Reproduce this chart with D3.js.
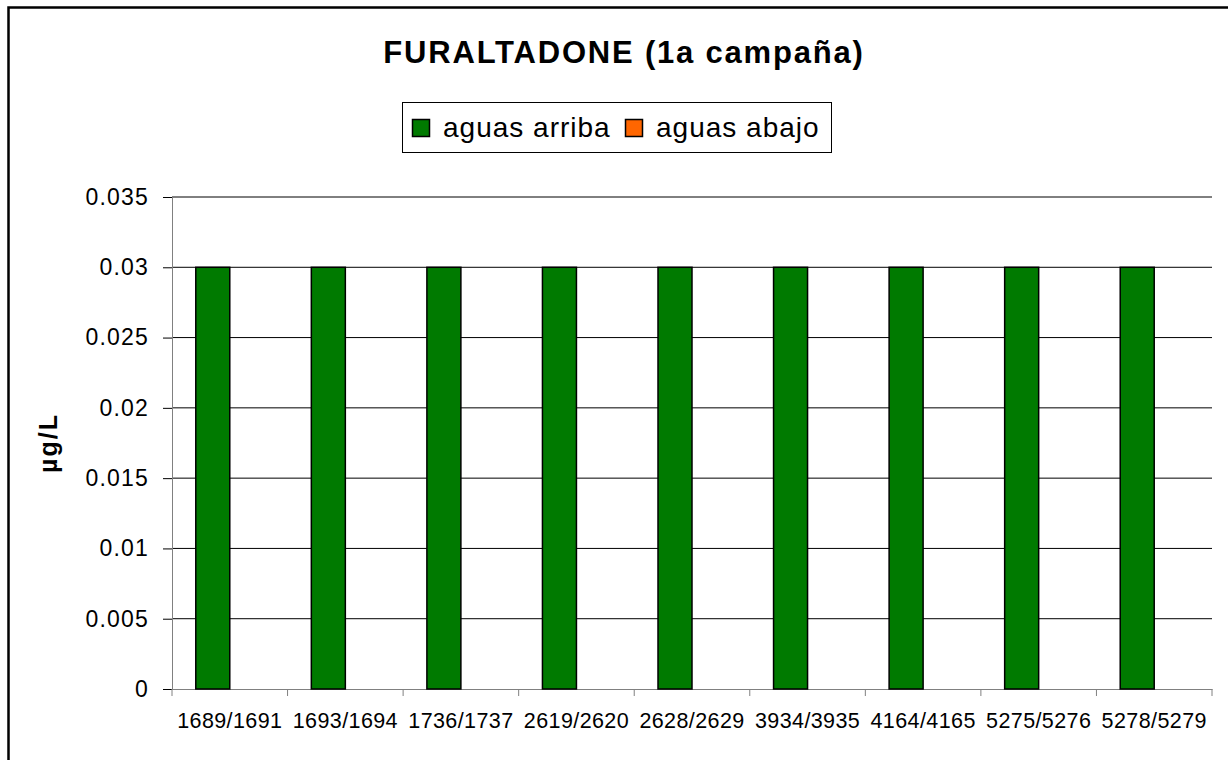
<!DOCTYPE html>
<html>
<head>
<meta charset="utf-8">
<script src="https://cdn.jsdelivr.net/npm/d3@7"></script>
<style>
  body { margin: 0; background: #fff; }
  svg { font-family: "Liberation Sans", Arial, sans-serif; }
</style>
</head>
<body>
<div id="chart"></div>
<script>
var sites = ["1689/1691", "1693/1694", "1736/1737", "2619/2620", "2628/2629",
             "3934/3935", "4164/4165", "5275/5276", "5278/5279"];
var seriesNames = ["aguas arriba", "aguas abajo"];
var upstream = [0.03, 0.03, 0.03, 0.03, 0.03, 0.03, 0.03, 0.03, 0.03];
var downstream = [0, 0, 0, 0, 0, 0, 0, 0, 0];
var yTicks = [0, 0.005, 0.01, 0.015, 0.02, 0.025, 0.03, 0.035];
var colors = ["#007A00", "#FF6600"];

var width = 1228, height = 760;
var margin = { top: 197, right: 16, bottom: 71, left: 172 };

const svg = d3.select("#chart")
  .append("svg")
  .attr("width", width)
  .attr("height", height);

// outer frame (only left and top edges show in the picture)
svg.append("path")
  .attr("d", "M8.5," + height + " L8.5,7.5 L" + width + ",7.5")
  .attr("fill", "none")
  .attr("stroke", "#000")
  .attr("stroke-width", 2.5);

svg.append("text")
  .attr("x", 624)
  .attr("y", 63)
  .attr("text-anchor", "middle")
  .attr("font-size", 31)
  .attr("font-weight", "bold")
  .attr("letter-spacing", 1.8)
  .text("FURALTADONE (1a campaña)");

const x = d3.scaleBand()
  .domain(sites)
  .range([margin.left, width - margin.right]);

const xSub = d3.scaleBand()
  .domain(seriesNames)
  .range([0, 68]);

const y = d3.scaleLinear()
  .domain([0, 0.035])
  .range([height - margin.bottom, margin.top]);

// gridlines
svg.append("g")
  .selectAll("line")
  .data(yTicks.filter(d => d > 0))
  .enter()
  .append("line")
  .attr("x1", margin.left)
  .attr("x2", width - margin.right)
  .attr("y1", d => y(d))
  .attr("y2", d => y(d))
  .attr("stroke", "#000")
  .attr("stroke-width", 1);

// y axis
const yAxis = svg.append("g")
  .attr("transform", "translate(" + margin.left + ",0)")
  .call(d3.axisLeft(y).tickValues(yTicks).tickFormat(d => String(+d.toFixed(3))).tickSize(9).tickPadding(14));
yAxis.select(".domain").attr("stroke", "#808080");
yAxis.selectAll(".tick line").attr("stroke", "#000");
yAxis.selectAll("text")
  .attr("font-size", 23)
  .attr("letter-spacing", 1.2)
  .attr("fill", "#000")
  .attr("font-family", "Liberation Sans, Arial, sans-serif");

// x axis
const xAxis = svg.append("g")
  .attr("transform", "translate(0," + (height - margin.bottom) + ")")
  .call(d3.axisBottom(x).tickSize(0).tickPadding(24));
xAxis.select(".domain").attr("stroke", "#808080");
xAxis.selectAll("text")
  .attr("font-size", 21.5)
  .attr("letter-spacing", 0.4)
  .attr("fill", "#000")
  .attr("font-family", "Liberation Sans, Arial, sans-serif");
xAxis.selectAll(".sep")
  .data(sites.map((s, i) => i).concat([sites.length]))
  .enter()
  .append("line")
  .attr("x1", i => margin.left + i * x.step())
  .attr("x2", i => margin.left + i * x.step())
  .attr("y1", 0)
  .attr("y2", 7)
  .attr("stroke", "#808080");

// bars
const rows = sites.map((s, i) => ({ site: s, values: [upstream[i], downstream[i]] }));
const groups = svg.append("g")
  .selectAll("g")
  .data(rows)
  .enter()
  .append("g")
  .attr("transform", d => "translate(" + (x(d.site) + x.bandwidth() / 2 - 34) + ",0)");

groups.selectAll("rect")
  .data(d => d.values.map((v, j) => ({ name: seriesNames[j], value: v, color: colors[j] })))
  .enter()
  .filter(d => d.value > 0)
  .append("rect")
  .attr("x", d => xSub(d.name))
  .attr("y", d => y(d.value))
  .attr("width", xSub.bandwidth())
  .attr("height", d => y(0) - y(d.value))
  .attr("fill", d => d.color)
  .attr("stroke", "#000")
  .attr("stroke-width", 1.5);

// y label
svg.append("text")
  .attr("transform", "translate(57,443) rotate(-90)")
  .attr("text-anchor", "middle")
  .attr("font-size", 25)
  .attr("font-weight", "bold")
  .attr("letter-spacing", 2)
  .text("µg/L");

// legend
const legend = svg.append("g");
legend.append("rect")
  .attr("x", 402.5)
  .attr("y", 102.5)
  .attr("width", 429)
  .attr("height", 50)
  .attr("fill", "#fff")
  .attr("stroke", "#000");
const legendX = [412, 625];
seriesNames.forEach(function (name, i) {
  legend.append("rect")
    .attr("x", legendX[i] + 0.5)
    .attr("y", 119.5)
    .attr("width", 17)
    .attr("height", 17)
    .attr("fill", colors[i])
    .attr("stroke", "#000")
    .attr("stroke-width", 1.5);
  legend.append("text")
    .attr("x", legendX[i] + 31)
    .attr("y", 137)
    .attr("font-size", 28)
    .attr("letter-spacing", 1)
    .text(name);
});
</script>
</body>
</html>
